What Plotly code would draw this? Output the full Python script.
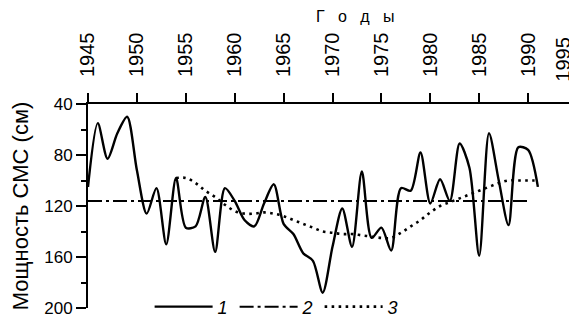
import plotly.graph_objects as go

# Series 1: snow cover thickness (cm), annual
years1 = list(range(1945, 1992))
thick1 = [105, 55, 83, 63, 50, 92, 126, 106, 150, 98,
          137, 136, 113, 156, 106, 116, 131, 136, 118, 103,
          134, 142, 157, 163, 188, 152, 122, 152, 93, 145,
          137, 155, 106, 108, 78, 118, 99, 116, 71, 90,
          159, 63, 100, 135, 74, 76, 105]

# Series 2: long-term mean
years2 = [1945, 1990]
mean2 = [116, 116]

# Series 3: smoothed trend
years3 = list(range(1954, 1992))
trend3 = [98, 98, 102, 108, 113, 119, 124, 126, 126, 125,
          126, 128, 131, 134, 137, 140, 141, 142, 142, 143,
          144, 145, 145, 141, 136, 131, 125, 120, 117, 114,
          111, 108, 105, 102, 100, 100, 100, 100]

x_ticks = list(range(1945, 1995, 5))
last_tick = 1995
y_ticks = [40, 80, 120, 160, 200]
legend_names = ["1", "2", "3"]

FONT = "Liberation Sans, Arial, sans-serif"
NB = "\u00a0\u00a0\u00a0"

fig = go.Figure()
fig.add_trace(go.Scatter(x=years1, y=thick1, mode="lines", name=legend_names[0],
                         line=dict(color="black", width=2.4, shape="spline", smoothing=0.8)))
fig.add_trace(go.Scatter(x=years2, y=mean2, mode="lines", name=legend_names[1],
                         line=dict(color="black", width=2, dash="14px,4px,3px,4px")))
fig.add_trace(go.Scatter(x=years3, y=trend3, mode="lines", name=legend_names[2],
                         line=dict(color="black", width=2.6, dash="2.6px,4.4px", shape="spline")))

# the page body has an 8px margin, so the margins are offset by 8px
fig.update_layout(
    width=577, height=324,
    margin=dict(l=80, r=8, t=96, b=23),
    paper_bgcolor="white", plot_bgcolor="white",
    font=dict(family=FONT, color="black", size=17),
    showlegend=True,
    legend=dict(orientation="h", x=0.126, y=0.01, xanchor="left", yanchor="middle",
                bgcolor="rgba(0,0,0,0)", itemwidth=58, entrywidth=12, entrywidthmode="pixels",
                font=dict(family=FONT, size=18, style="italic", color="black"),
                traceorder="normal", itemclick=False),
    xaxis=dict(range=[1945, 1995], side="top", tickmode="array", tickvals=x_ticks,
               tickangle=-90, ticks="outside", ticklen=9, tickwidth=1.5, tickcolor="black",
               showline=True, linecolor="black", linewidth=1.8, showgrid=False, zeroline=False,
               tickfont=dict(size=20), ticklabelstandoff=12, automargin=False),
    yaxis=dict(range=[200, 40], tickmode="array", tickvals=y_ticks,
               ticks="outside", ticklen=10, tickwidth=1.5, tickcolor="black",
               showline=True, linecolor="black", linewidth=1.8, showgrid=False, zeroline=False,
               minor=dict(tickvals=[60, 100, 140, 180], ticks="outside", ticklen=5,
                          tickwidth=1.5, tickcolor="black"),
               tickfont=dict(size=17), automargin=False,
               title=dict(text="Мощность СМС (см)", font=dict(size=22), standoff=11)),
    annotations=[
        dict(text=NB.join("Годы"), xref="paper", yref="paper", x=0.546, y=1.429,
             xanchor="center", yanchor="middle", showarrow=False,
             font=dict(size=16, family=FONT)),
        dict(text=str(last_tick), xref="x", yref="paper", x=last_tick, y=1.217,
             xanchor="center", yanchor="middle", showarrow=False, textangle=-90,
             xshift=-14, font=dict(size=20, family=FONT)),
    ],
)

fig.write_html("out.html")
